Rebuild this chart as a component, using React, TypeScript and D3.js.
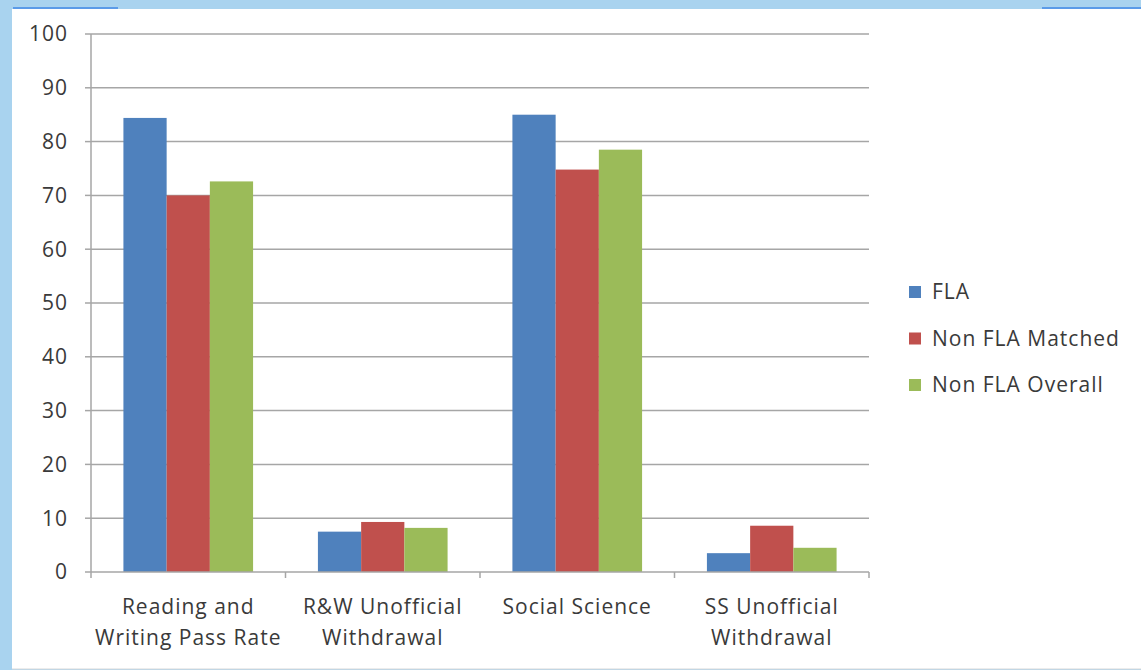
import React from "react";
import * as d3 from "d3";

const categories: string[][] = [
  ["Reading and", "Writing Pass Rate"],
  ["R&W Unofficial", "Withdrawal"],
  ["Social Science"],
  ["SS Unofficial", "Withdrawal"],
];
const seriesNames = ["FLA", "Non FLA Matched", "Non FLA Overall"];
const fla = [84.4, 7.5, 85.0, 3.5];
const nonFlaMatched = [70.0, 9.3, 74.8, 8.6];
const nonFlaOverall = [72.6, 8.2, 78.5, 4.5];
const yTicks = [0, 10, 20, 30, 40, 50, 60, 70, 80, 90, 100];
const colors = ["#4F81BD", "#C0504D", "#9BBB59"];

const W = 1141;
const H = 670;
const FONT = "'Open Sans', 'Noto Sans', sans-serif";

export default function App() {
  const series = [fla, nonFlaMatched, nonFlaOverall];
  const x0 = d3.scaleBand<number>().domain(d3.range(categories.length)).range([91, 869]).paddingInner(0).paddingOuter(0);
  // Excel gap width 150%: group = 3w + 1.5w
  const bw = x0.bandwidth() / 4.5;
  const y = d3.scaleLinear().domain([0, 100]).range([572, 34]);
  const textColor = "#3a3a3a";
  return (
    <svg width={W} height={H} style={{ position: "absolute", left: 0, top: 0, display: "block" }}>
      <rect x={0} y={0} width={W} height={H} fill="#a9d3ef" />
      <rect x={12} y={9} width={W - 12} height={H - 10} fill="#ffffff" />
      <rect x={13} y={7} width={105} height={2} fill="#5b9be8" />
      <rect x={1042} y={7} width={99} height={2} fill="#5b9be8" />
      <line x1={12} x2={W} y1={H - 1} y2={H - 1} stroke="#d9d9d9" />
      {yTicks.map((t) => (
        <g key={t}>
          {t > 0 && <line x1={91} x2={869} y1={y(t)} y2={y(t)} stroke="#a6a6a6" strokeWidth={1.5} />}
          <line x1={85} x2={91} y1={y(t)} y2={y(t)} stroke="#a6a6a6" strokeWidth={1.5} />
          <text x={68} y={y(t)} dy="0.35em" textAnchor="end" fontFamily={FONT} fontSize={21} letterSpacing={1} fill={textColor}>
            {t}
          </text>
        </g>
      ))}
      {categories.map((c, i) => (
        <g key={i}>
          {series.map((s, j) => {
            const x = (x0(i) as number) + 0.75 * bw + j * bw;
            return <rect key={j} x={x} y={y(s[i])} width={bw} height={y(0) - y(s[i])} fill={colors[j]} />;
          })}
          {c.map((line, k) => (
            <text
              key={k}
              x={(x0(i) as number) + x0.bandwidth() / 2}
              y={607 + k * 31}
              dy="0.35em"
              textAnchor="middle"
              fontFamily={FONT}
              fontSize={21}
              letterSpacing={1}
              fill={textColor}
            >
              {line}
            </text>
          ))}
        </g>
      ))}
      <line x1={91} x2={91} y1={34} y2={572} stroke="#a6a6a6" strokeWidth={1.5} />
      <line x1={91} x2={869} y1={572} y2={572} stroke="#a6a6a6" strokeWidth={1.5} />
      {d3.range(categories.length + 1).map((i) => {
        const xx = 91 + i * x0.bandwidth();
        return <line key={i} x1={xx} x2={xx} y1={572} y2={578} stroke="#a6a6a6" strokeWidth={1.5} />;
      })}
      {seriesNames.map((n, j) => (
        <g key={n}>
          <rect x={909} y={292 + j * 46.5 - 6} width={12} height={12} fill={colors[j]} />
          <text x={932} y={292 + j * 46.5} dy="0.35em" fontFamily={FONT} fontSize={21} letterSpacing={1} fill={textColor}>
            {n}
          </text>
        </g>
      ))}
    </svg>
  );
}
